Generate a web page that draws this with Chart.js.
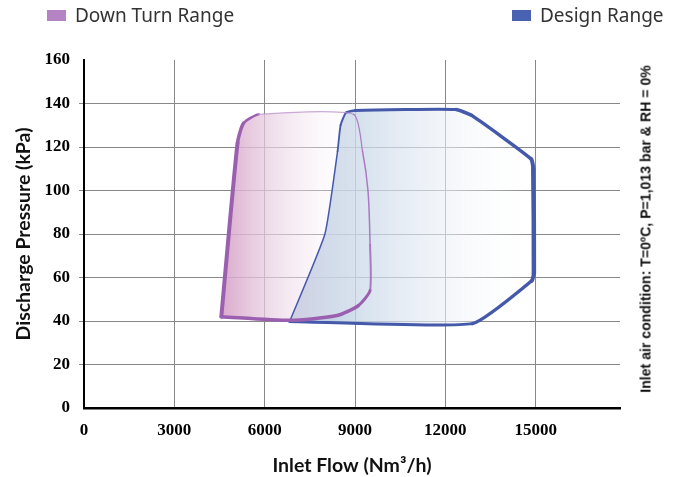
<!DOCTYPE html>
<html>
<head>
<meta charset="utf-8">
<title>Operating range</title>
<script src="https://cdn.jsdelivr.net/npm/chart.js@4/dist/chart.umd.min.js"></script>
<style>
  html, body { margin: 0; padding: 0; background: #fff; }
  #wrap { position: relative; width: 676px; height: 477px; overflow: hidden; }
  #chart { position: absolute; left: 0; top: 0; }
  .legend-item { position: absolute; top: 2px; font: 19px "Noto Sans", "Open Sans", sans-serif; color: #333; white-space: nowrap; }
  .legend-box { display: inline-block; width: 19px; height: 11px; margin-right: 9px; vertical-align: 1px; }
  #note { position: absolute; left: 645px; top: 229px; transform: translate(-50%, -50%) rotate(-90deg);
          font: bold 15px "Liberation Sans", Arial, sans-serif; color: #111; white-space: nowrap; }
</style>
</head>
<body>
<div id="wrap">
  <canvas id="chart" width="676" height="477"></canvas>
  <div class="legend-item" style="left:47px"><span class="legend-box" style="background:#b583c4"></span>Down Turn Range</div>
  <div class="legend-item" style="left:512px"><span class="legend-box" style="background:#4a62b2"></span>Design Range</div>
  <div id="note">Inlet air condition: T=0ºC, P=1,013 bar &amp; RH = 0%</div>
</div>
<script>
// axis ticks
var xTicks = [0, 3000, 6000, 9000, 12000, 15000];
var yTicks = [0, 20, 40, 60, 80, 100, 120, 140, 160];

// Down Turn Range outline (Nm3/h, kPa)
var downTurnFlow     = [4560, 5100, 5300, 5800, 8950, 9250, 9430, 9500, 9500, 9100, 8400, 6850, 4560];
var downTurnPressure = [42,   122,  131,  135,  135,  118,  100,  75,   54,   47,   42.5, 40.3, 42];

// Design Range outline
var designFlow     = [6830, 8000, 8420, 8520, 8700,  9000,  12350, 12900, 14850, 14920, 14940, 14870, 12900, 6830];
var designPressure = [39.8, 80,   118,  130,  135.8, 136.8, 137.2, 134.3, 114.5, 110,   62,    58.5,  38.8,  39.8];

// stroke width per outline segment
var downTurnWidths = [4, 3.5, 2.5, 1.3, 1.2, 1.5, 1.5, 2, 3, 3.5, 3.5, 3.5];
var designWidths   = [1.5, 1.5, 1.8, 2, 2.5, 3, 3.5, 3.5, 4, 4.5, 4, 3.5, 3];

function toPoints(xs, ys) {
  return xs.map(function(x, i) { return { x: x, y: ys[i] }; });
}

// fills each closed outline with a horizontal gradient, under all the outlines.
// the path follows the point elements (and their spline control points) Chart.js laid out.
var shapeFill = {
  id: 'shapeFill',
  beforeDatasetsDraw: function(chart) {
    var ctx = chart.ctx;
    var sx = chart.scales.x;
    var area = chart.chartArea;
    for (var i = chart.data.datasets.length - 1; i >= 0; i--) {
      var ds = chart.data.datasets[i];
      var pts = chart.getDatasetMeta(i).data;
      if (!ds.gradientStops || !pts.length) continue;
      var xs = ds.data.map(function(p) { return p.x; });
      var g = ctx.createLinearGradient(
        sx.getPixelForValue(Math.min.apply(null, xs)), 0,
        sx.getPixelForValue(Math.max.apply(null, xs)), 0);
      ds.gradientStops.forEach(function(s) { g.addColorStop(s[0], s[1]); });

      ctx.save();
      ctx.beginPath();
      ctx.rect(area.left, area.top, area.right - area.left, area.bottom - area.top);
      ctx.clip();
      ctx.beginPath();
      ctx.moveTo(pts[0].x, pts[0].y);
      for (var k = 1; k < pts.length; k++) {
        var a = pts[k - 1], b = pts[k];
        if (a.cp2x !== undefined && b.cp1x !== undefined) {
          ctx.bezierCurveTo(a.cp2x, a.cp2y, b.cp1x, b.cp1y, b.x, b.y);
        } else {
          ctx.lineTo(b.x, b.y);
        }
      }
      ctx.closePath();
      ctx.fillStyle = g;
      ctx.fill();
      ctx.restore();
    }
  }
};

var serifTicks = { family: '"Liberation Serif", "Times New Roman", serif', weight: 'bold', size: 17 };
var titleFont = { family: 'Lato, "Noto Sans", sans-serif', weight: 'bold', size: 19.5 };

new Chart(document.getElementById('chart').getContext('2d'), {
  type: 'scatter',
  plugins: [shapeFill],
  data: {
    datasets: [
      {
        label: 'Down Turn Range',
        data: toPoints(downTurnFlow, downTurnPressure),
        showLine: true,
        fill: false,
        tension: 0.2,
        pointRadius: 0,
        borderColor: '#9b5faf',
        borderCapStyle: 'round',
        borderJoinStyle: 'round',
        gradientStops: [
          [0, 'rgba(214,160,198,0.9)'],
          [0.35, 'rgba(234,210,228,0.7)'],
          [0.7, 'rgba(248,240,246,0.35)'],
          [1, 'rgba(255,255,255,0)']
        ],
        segment: {
          borderWidth: function(ctx) { return downTurnWidths[ctx.p0DataIndex]; },
          borderColor: function(ctx) {
            var i = ctx.p0DataIndex;
            if (i === 3) return 'rgba(190,150,208,0.8)';
            if (i >= 4 && i <= 7) return 'rgba(165,110,188,0.9)';
            return '#9b5faf';
          }
        }
      },
      {
        label: 'Design Range',
        data: toPoints(designFlow, designPressure),
        showLine: true,
        fill: false,
        tension: 0.15,
        pointRadius: 0,
        borderColor: '#4459aa',
        borderCapStyle: 'round',
        borderJoinStyle: 'round',
        gradientStops: [
          [0, 'rgba(150,178,208,0.9)'],
          [0.3, 'rgba(203,217,233,0.75)'],
          [0.65, 'rgba(236,241,247,0.6)'],
          [1, 'rgba(255,255,255,0)']
        ],
        segment: {
          borderWidth: function(ctx) { return designWidths[ctx.p0DataIndex]; }
        }
      }
    ]
  },
  options: {
    responsive: false,
    animation: false,
    layout: { padding: { left: 0, top: 60, right: 56, bottom: 0 } },
    plugins: {
      legend: { display: false },
      tooltip: { enabled: false }
    },
    scales: {
      x: {
        type: 'linear',
        min: 0,
        max: 17800,
        afterBuildTicks: function(s) { s.ticks = xTicks.map(function(v) { return { value: v }; }); },
        afterFit: function(s) { s.height = 69; },
        border: { color: '#000', width: 2.5 },
        grid: {
          drawTicks: false,
          lineWidth: 1,
          color: function(ctx) { return ctx.tick && ctx.tick.value === 0 ? 'transparent' : '#888'; }
        },
        ticks: {
          color: '#000', font: serifTicks, padding: 12, maxRotation: 0,
          callback: function(v) { return String(v); }
        },
        title: {
          display: true,
          text: 'Inlet Flow (Nm³/h)',
          color: '#111',
          font: titleFont,
          padding: { top: 0, bottom: 0 }
        }
      },
      y: {
        min: 0,
        max: 160,
        afterBuildTicks: function(s) { s.ticks = yTicks.map(function(v) { return { value: v }; }); },
        afterFit: function(s) { s.width = 84; },
        border: { color: '#000', width: 2 },
        grid: {
          drawTicks: true,
          tickLength: 5,
          lineWidth: 1,
          color: function(ctx) {
            var v = ctx.tick && ctx.tick.value;
            return (v === 0 || v === 160) ? 'transparent' : '#888';
          }
        },
        ticks: { color: '#000', font: serifTicks, padding: 9 },
        title: {
          display: true,
          text: 'Discharge Pressure (kPa)',
          color: '#111',
          font: titleFont,
          padding: { top: 12, bottom: 0 }
        }
      }
    }
  }
});

// squeeze the side note to the narrow width it has in the original
var note = document.getElementById('note');
var squeeze = 328 / note.offsetWidth;
note.style.transform = 'translate(-50%, -50%) rotate(-90deg) scale(' + squeeze + ', 1)';
</script>
</body>
</html>
